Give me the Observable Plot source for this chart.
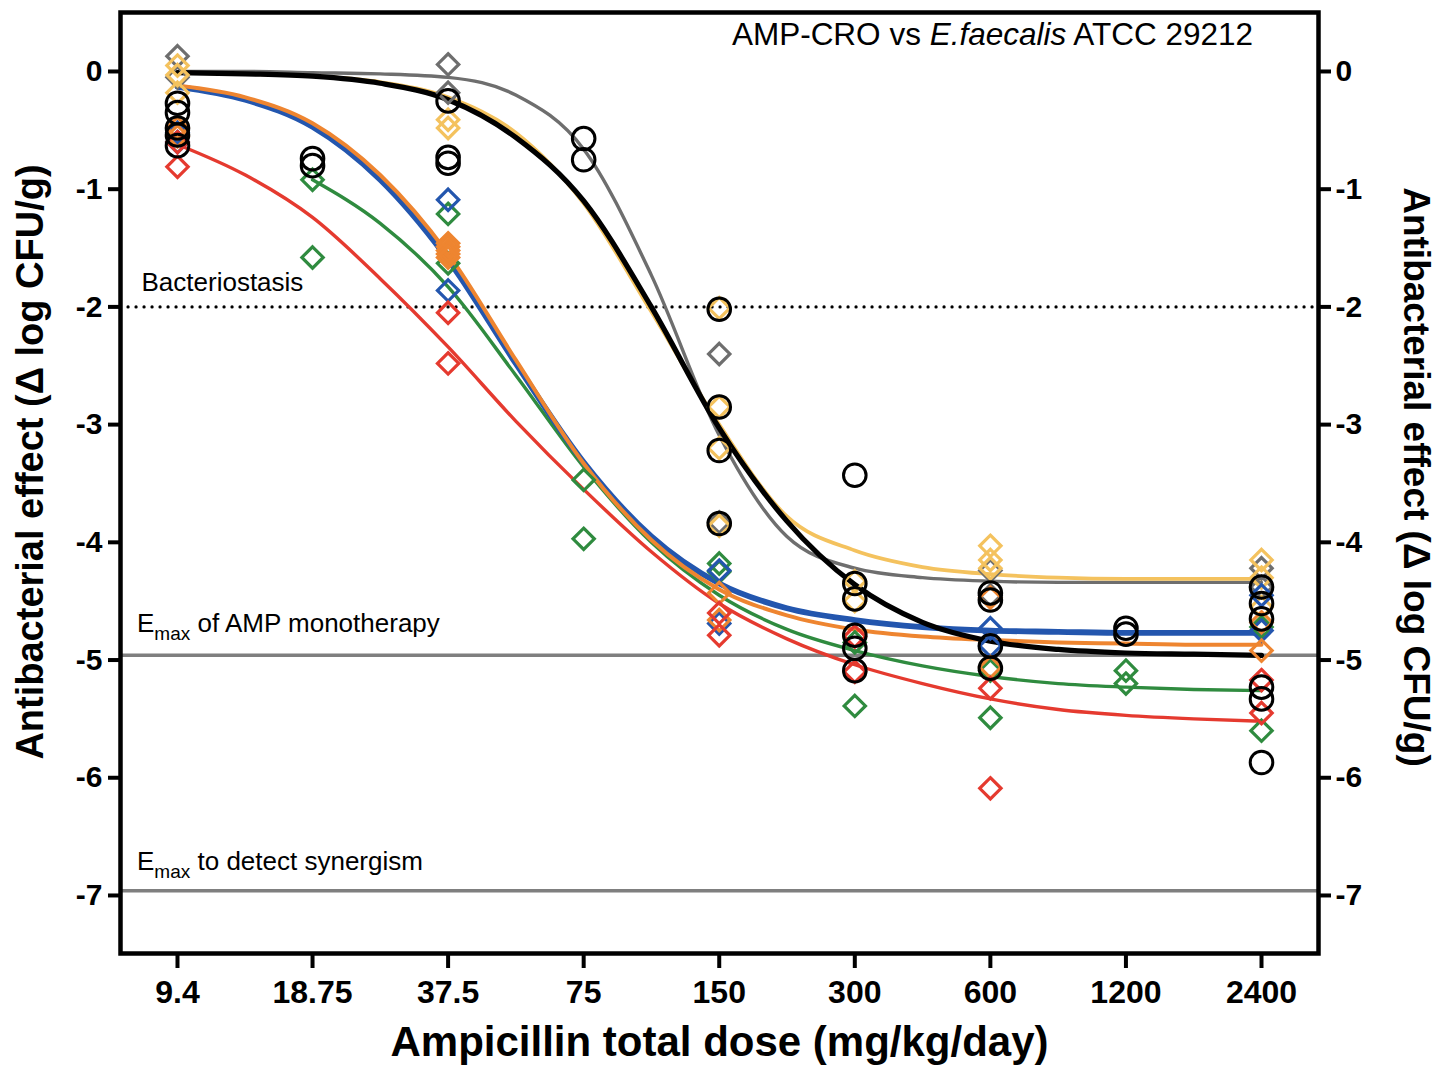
<!DOCTYPE html>
<html>
<head>
<meta charset="utf-8">
<script src="https://cdn.jsdelivr.net/npm/d3@7"></script>
<script src="https://cdn.jsdelivr.net/npm/@observablehq/plot@0.6"></script>
<style>
  body { margin: 0; background: #fff; }
  #chart svg { display: block; }
  #chart text { font-family: "Liberation Sans", Arial, Helvetica, sans-serif; }
</style>
</head>
<body>
<div id="chart"></div>
<script>
// ---- categories / ticks ----
const doses = [9.4, 18.75, 37.5, 75, 150, 300, 600, 1200, 2400];
const doseLabels = ["9.4", "18.75", "37.5", "75", "150", "300", "600", "1200", "2400"];
const yTicks = [0, -1, -2, -3, -4, -5, -6, -7];

// ---- reference levels ----
const bacteriostasis = -2;
const emaxMono = -4.96;
const emaxSynergy = -6.96;

// ---- observed points (one inner list per dose) ----
const obsAmp = [
  [-0.27, -0.35, -0.48, -0.54, -0.63],
  [-0.74, -0.80],
  [-0.25, -0.73, -0.78],
  [-0.57, -0.75],
  [-2.02, -2.85, -3.22, -3.84],
  [-3.43, -4.35, -4.48, -4.79, -4.90, -5.09],
  [-4.43, -4.49, -4.88, -5.07],
  [-4.73, -4.78],
  [-4.38, -4.52, -4.65, -5.23, -5.33, -5.87]
];
const obsGrey = [
  [0.13, -0.05], [], [0.06, -0.18], [], [-2.40, -3.83], [], [-4.24, -4.45], [], [-4.22, -4.38]
];
const obsYellow = [
  [0.05, -0.03, -0.18], [], [-0.41, -0.48], [], [-2.01, -2.85, -3.20, -3.86], [-4.33, -4.50],
  [-4.03, -4.15, -4.22], [], [-4.15, -4.30, -4.55]
];
const obsBlue = [
  [-0.52, -0.60], [], [-1.09, -1.86], [], [-4.24, -4.69], [], [-4.73, -4.88], [], [-4.45, -4.75]
];
const obsOrange = [
  [-0.48, -0.55], [], [-1.46, -1.49, -1.52, -1.55, -1.58], [], [-4.43, -4.66], [], [-4.47, -5.06], [], [-4.68, -4.92]
];
const obsGreen = [
  [], [-0.92, -1.58], [-1.21, -1.63], [-3.47, -3.97], [-4.18, -4.25], [-4.85, -5.39],
  [-5.09, -5.49], [-5.09, -5.20], [-4.72, -5.60]
];
const obsRed = [
  [-0.60, -0.81], [], [-2.05, -2.48], [], [-4.60, -4.79], [-4.80, -5.10], [-5.24, -6.09], [], [-5.17, -5.45]
];

// ---- fitted curves ----
const curveDoses = [9.4, 13.3, 18.75, 26.5, 37.5, 53, 75, 106, 150, 212, 300, 424, 600, 849, 1200, 1697, 2400];
const fitAmp    = [-0.01, -0.02, -0.04, -0.10, -0.24, -0.56, -1.10, -2.00, -3.03, -3.82, -4.36, -4.68, -4.84, -4.91, -4.94, -4.95, -4.96];
const fitGrey   = [0.00, 0.00, -0.01, -0.02, -0.05, -0.20, -0.66, -1.73, -3.09, -3.95, -4.22, -4.30, -4.33, -4.34, -4.34, -4.34, -4.34];
const fitYellow = [-0.01, -0.02, -0.04, -0.09, -0.22, -0.52, -1.12, -2.04, -3.00, -3.78, -4.07, -4.21, -4.27, -4.30, -4.31, -4.31, -4.31];
const fitBlue   = [-0.13, -0.24, -0.47, -0.92, -1.60, -2.48, -3.32, -3.95, -4.35, -4.56, -4.66, -4.72, -4.75, -4.76, -4.77, -4.77, -4.77];
const fitOrange = [-0.12, -0.22, -0.44, -0.88, -1.55, -2.45, -3.33, -3.98, -4.40, -4.62, -4.74, -4.80, -4.83, -4.85, -4.86, -4.87, -4.87];
const fitGreen  = [null, null, -0.92, -1.29, -1.83, -2.58, -3.36, -4.00, -4.45, -4.74, -4.92, -5.05, -5.14, -5.20, -5.23, -5.25, -5.26];
const fitRed    = [-0.62, -0.88, -1.24, -1.76, -2.34, -2.97, -3.55, -4.08, -4.52, -4.82, -5.04, -5.20, -5.33, -5.42, -5.47, -5.50, -5.52];

// ---- styling ----
const C = {
  amp: "#000000", grey: "#6e6e6e", yellow: "#f4c25e", blue: "#2356ae",
  orange: "#ee8530", green: "#2f8b3f", red: "#e53a2f"
};

function pts(series) {
  const out = [];
  series.forEach((vals, i) => vals.forEach(v => out.push({dose: doses[i], value: v})));
  return out;
}
function crv(fit) {
  return curveDoses.map((d, i) => ({dose: d, value: fit[i]})).filter(r => r.value != null);
}

const diamond = (series, color) =>
  Plot.dot(pts(series), {x: "dose", y: "value", symbol: "diamond2", r: 9.6, stroke: color, strokeWidth: 3.2, fill: "none"});
const line = (fit, color, w) =>
  Plot.line(crv(fit), {x: "dose", y: "value", stroke: color, strokeWidth: w, curve: "monotone-x"});

const axisFont = {fontSize: 30, fontWeight: "bold"};
const yFmt = d => String(d);
const yLabel = "Antibacterial effect (\u0394 log CFU/g)";

const chart = Plot.plot({
  width: 1446,
  height: 1078,
  marginLeft: 120,
  marginRight: 128,
  marginTop: 12,
  marginBottom: 125,
  style: {fontFamily: "Liberation Sans, Arial, Helvetica, sans-serif", background: "#fff", color: "#000"},
  x: {type: "log", domain: [7.024, 3212]},
  y: {domain: [-7.493, 0.501]},
  marks: [
    Plot.ruleY([bacteriostasis], {stroke: "#000", strokeWidth: 3.2, strokeDasharray: "0.1 7.9", strokeLinecap: "round"}),
    Plot.ruleY([emaxMono, emaxSynergy], {stroke: "#7f7f7f", strokeWidth: 3.5}),
    line(fitGrey, C.grey, 3.4),
    line(fitYellow, C.yellow, 3.8),
    line(fitRed, C.red, 3.4),
    line(fitGreen, C.green, 3.4),
    line(fitBlue, C.blue, 5.8),
    line(fitOrange, C.orange, 4),
    line(fitAmp, C.amp, 5.2),
    diamond(obsGrey, C.grey),
    diamond(obsYellow, C.yellow),
    diamond(obsGreen, C.green),
    diamond(obsBlue, C.blue),
    diamond(obsOrange, C.orange),
    diamond(obsRed, C.red),
    Plot.dot(pts(obsAmp), {x: "dose", y: "value", r: 11.3, stroke: C.amp, strokeWidth: 3, fill: "none"}),
    Plot.frame({stroke: "#000", strokeWidth: 4.5}),
    Plot.axisX(doses, {tickFormat: () => "", tickSize: 15, strokeWidth: 4, label: null}),
    Plot.text(doseLabels, {x: doses, frameAnchor: "bottom", dy: 49, fontSize: 32, fontWeight: "bold"}),
    Plot.axisY(yTicks, {anchor: "left", tickFormat: yFmt, tickSize: 12, tickPadding: 6, strokeWidth: 4, label: null, ...axisFont}),
    Plot.axisY(yTicks, {anchor: "right", tickFormat: yFmt, tickSize: 12, tickPadding: 5, strokeWidth: 4, label: null, ...axisFont}),
    Plot.text(["Ampicillin total dose (mg/kg/day)"], {frameAnchor: "bottom", dy: 102, fontSize: 42, fontWeight: "bold"}),
    Plot.text([yLabel], {frameAnchor: "left", textAnchor: "middle", rotate: -90, dx: -90, dy: -21, fontSize: 38, fontWeight: "bold"}),
    Plot.text([yLabel], {frameAnchor: "right", textAnchor: "middle", rotate: 90, dx: 97, dy: -6, fontSize: 37, fontWeight: "bold"}),
    Plot.text(["Bacteriostasis"], {y: [bacteriostasis], frameAnchor: "left", textAnchor: "start", dx: 21, dy: -24, fontSize: 26})
  ]
});

document.getElementById("chart").appendChild(chart);

// annotations needing sub-/italic spans
const svg = d3.select(chart);
const ys = chart.scale("y");
function emaxLabel(yVal, rest, dyUp) {
  const t = svg.append("text")
    .attr("x", 137).attr("y", ys.apply(yVal) - dyUp)
    .attr("text-anchor", "start")
    .attr("font-size", 26).attr("fill", "#000")
    .style("white-space", "pre");
  t.append("tspan").text("E");
  t.append("tspan").attr("font-size", 19).attr("dy", 8).text("max");
  t.append("tspan").attr("dy", -8).text(rest);
}
emaxLabel(emaxMono, " of AMP monotherapy", 23);
emaxLabel(emaxSynergy, " to detect synergism", 20);

const title = svg.append("text")
  .attr("x", 1253).attr("y", 45)
  .attr("text-anchor", "end").attr("font-size", 31.5).attr("fill", "#000")
  .style("white-space", "pre");
title.append("tspan").text("AMP-CRO vs ");
title.append("tspan").attr("font-style", "italic").text("E.faecalis");
title.append("tspan").text(" ATCC 29212");
</script>
</body>
</html>
